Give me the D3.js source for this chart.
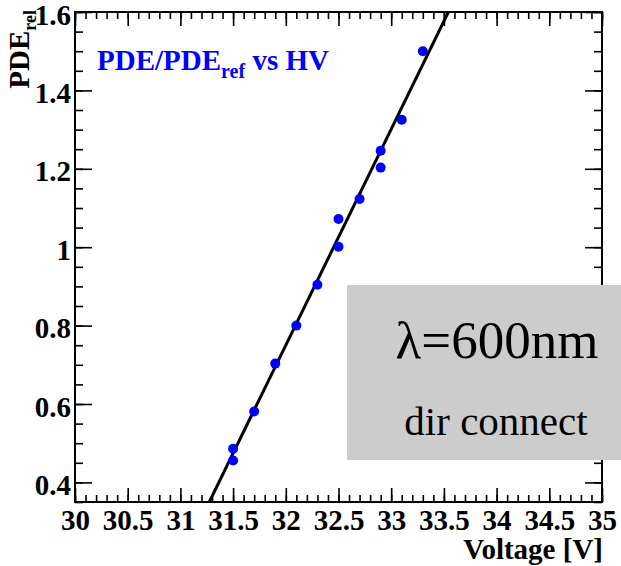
<!DOCTYPE html>
<html>
<head>
<meta charset="utf-8">
<script src="https://cdn.jsdelivr.net/npm/d3@7"></script>
<style>
  body { margin: 0; background: #fff; }
  svg { display: block; }
</style>
</head>
<body>
<div id="chart"></div>
<script>
// measured points (relative PDE vs bias voltage)
const voltage = [31.5, 31.5, 31.7, 31.9, 32.1, 32.3, 32.5, 32.5, 32.7, 32.9, 32.9, 33.1, 33.3];
const pdeRel  = [0.486, 0.456, 0.581, 0.703, 0.80, 0.904, 1.001, 1.072, 1.123, 1.203, 1.246, 1.325, 1.50];

// linear fit drawn over the points
const fitSlope = 0.551;
const fitIntercept = -16.882;

const xTickLabels = [30, 30.5, 31, 31.5, 32, 32.5, 33, 33.5, 34, 34.5, 35];
const yTickLabels = [0.4, 0.6, 0.8, 1, 1.2, 1.4, 1.6];

const serif = "'Liberation Serif', 'Times New Roman', 'DejaVu Serif', serif";
const width = 621, height = 566;
const margin = { top: 12, right: 19, bottom: 64, left: 75 };
const iw = width - margin.left - margin.right;
const ih = height - margin.top - margin.bottom;

const x = d3.scaleLinear().domain([30, 35]).range([0, iw]);
const y = d3.scaleLinear().domain([0.35, 1.6]).range([ih, 0]);

const svg = d3.select("#chart").append("svg")
    .attr("width", width)
    .attr("height", height)
    .style("font-family", serif);

const g = svg.append("g").attr("transform", `translate(${margin.left},${margin.top})`);

// minor ticks every 0.1 V and 0.05
const xMinor = d3.range(30, 35.0001, 0.1).map(v => +v.toFixed(1));
const yMinor = d3.range(0.35, 1.6001, 0.05).map(v => +v.toFixed(2));

function styleAxis(sel) {
    sel.attr("font-family", serif);
    sel.select(".domain").remove();
    sel.selectAll("line").attr("stroke", "#000").attr("stroke-width", 1.6);
}

// bottom
g.append("g").attr("transform", `translate(0,${ih})`)
    .call(d3.axisBottom(x).tickValues(xMinor).tickSize(-7).tickFormat(""))
    .call(styleAxis);
g.append("g").attr("transform", `translate(0,${ih})`)
    .call(d3.axisBottom(x).tickValues(xTickLabels).tickSize(-14).tickPadding(7).tickFormat(d => d))
    .call(styleAxis)
    .selectAll("text")
    .attr("fill", "#000")
    .style("font-family", serif)
    .style("font-size", "29px")
    .style("font-weight", "bold");
// top
g.append("g")
    .call(d3.axisTop(x).tickValues(xMinor).tickSize(-7).tickFormat(""))
    .call(styleAxis);
g.append("g")
    .call(d3.axisTop(x).tickValues(xTickLabels).tickSize(-14).tickFormat(""))
    .call(styleAxis);
// left
g.append("g")
    .call(d3.axisLeft(y).tickValues(yMinor).tickSize(-8).tickFormat(""))
    .call(styleAxis);
g.append("g")
    .call(d3.axisLeft(y).tickValues(yTickLabels).tickSize(-17).tickPadding(4).tickFormat(d => d))
    .call(styleAxis)
    .selectAll("text")
    .attr("fill", "#000")
    .attr("dy", "0.42em")
    .style("font-family", serif)
    .style("font-size", "29px")
    .style("font-weight", "bold");
// right
g.append("g").attr("transform", `translate(${iw},0)`)
    .call(d3.axisRight(y).tickValues(yMinor).tickSize(-8).tickFormat(""))
    .call(styleAxis);
g.append("g").attr("transform", `translate(${iw},0)`)
    .call(d3.axisRight(y).tickValues(yTickLabels).tickSize(-17).tickFormat(""))
    .call(styleAxis);

// frame
g.append("rect")
    .attr("width", iw).attr("height", ih)
    .attr("fill", "none").attr("stroke", "#000").attr("stroke-width", 2);

// clip for fit line
svg.append("clipPath").attr("id", "plotClip")
    .append("rect").attr("width", iw).attr("height", ih);

const fitData = x.domain().map(v => ({ v, p: fitSlope * v + fitIntercept }));
g.append("path")
    .datum(fitData)
    .attr("clip-path", "url(#plotClip)")
    .attr("fill", "none")
    .attr("stroke", "#000")
    .attr("stroke-width", 3)
    .attr("d", d3.line().x(d => x(d.v)).y(d => y(d.p)));

// points
g.selectAll("circle.pt")
    .data(voltage.map((v, i) => ({ v, p: pdeRel[i] })))
    .enter().append("circle")
    .attr("class", "pt")
    .attr("cx", d => x(d.v))
    .attr("cy", d => y(d.p))
    .attr("r", 5)
    .attr("fill", "#0000ff");

// title inside the frame
const title = svg.append("text")
    .attr("x", 97).attr("y", 70)
    .attr("fill", "#0000ff")
    .style("font-family", serif)
    .style("font-size", "29px")
    .style("font-weight", "bold");
title.append("tspan").text("PDE/PDE");
title.append("tspan").attr("dy", 8).style("font-size", "20px").text("ref");
title.append("tspan").attr("dy", -8).text(" vs HV");

// y title
const yt = svg.append("text")
    .attr("transform", "translate(29,10) rotate(-90)")
    .attr("text-anchor", "end")
    .attr("fill", "#000")
    .style("font-family", serif)
    .style("font-size", "29px")
    .style("font-weight", "bold");
yt.append("tspan").text("PDE");
yt.append("tspan").attr("dy", 7).style("font-size", "18px").text("rel");

// x title
svg.append("text")
    .attr("x", 603).attr("y", 559)
    .attr("text-anchor", "end")
    .attr("fill", "#000")
    .style("font-family", serif)
    .style("font-size", "29px")
    .style("font-weight", "bold")
    .text("Voltage [V]");

// grey label box
svg.append("rect")
    .attr("x", 347).attr("y", 285)
    .attr("width", width - 347).attr("height", 175)
    .attr("fill", "#cccccc");
svg.append("text")
    .attr("x", 497).attr("y", 358)
    .attr("text-anchor", "middle")
    .attr("fill", "#000")
    .style("font-family", serif)
    .style("font-size", "53px")
    .text("λ=600nm");
svg.append("text")
    .attr("x", 496).attr("y", 435)
    .attr("text-anchor", "middle")
    .attr("fill", "#000")
    .style("font-family", serif)
    .style("font-size", "41px")
    .text("dir connect");
</script>
</body>
</html>
